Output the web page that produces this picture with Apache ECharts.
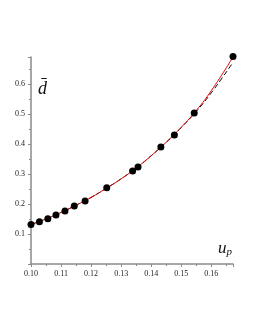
<!DOCTYPE html>
<html><head><meta charset="utf-8">
<script src="https://cdn.jsdelivr.net/npm/echarts@6/dist/echarts.min.js"></script>
<style>html,body{margin:0;padding:0;background:#fff}#c{width:255px;height:330px}</style>
</head><body><div id="c"></div>
<script>
var pointU = [0.1000,0.1028,0.1056,0.1083,0.1113,0.1144,0.1180,0.1252,0.1338,0.1356,0.1432,0.1477,0.1543,0.1672];
var pointD = [0.132,0.141,0.151,0.163,0.177,0.193,0.210,0.254,0.310,0.323,0.390,0.430,0.503,0.692];
var curveU = [0.100,0.105,0.110,0.115,0.120,0.125,0.130,0.135,0.140,0.145,0.150,0.155,0.160,0.1672];
var redD   = [0.132,0.150,0.172,0.196,0.222,0.252,0.284,0.320,0.361,0.406,0.456,0.512,0.578,0.690];
var dashD  = [0.132,0.150,0.172,0.196,0.222,0.252,0.284,0.320,0.361,0.406,0.455,0.509,0.571,0.672];
var xTicks = ['0.10','0.11','0.12','0.13','0.14','0.15','0.16'];
var yTicks = ['0.1','0.2','0.3','0.4','0.5','0.6'];

function zip(a,b){return a.map(function(v,i){return [v,b[i]];});}
var chart = echarts.init(document.getElementById('c'));
var font = '"Liberation Serif", "DejaVu Serif", serif';
chart.setOption({
  animation:false,
  grid:{left:31,right:22,top:57,bottom:66},
  xAxis:{type:'value',min:0.1,max:0.1672,interval:0.01,
    axisLine:{lineStyle:{color:'#8a8a8a',width:1.5}},
    axisTick:{show:true,length:3,inside:false,lineStyle:{color:'#8a8a8a'}},
    minorTick:{show:true,splitNumber:2,length:2,lineStyle:{color:'#8a8a8a'}},
    splitLine:{show:false},
    axisLabel:{margin:6,fontSize:8,fontFamily:font,color:'#222',showMaxLabel:false,
      formatter:function(v){var s=v.toFixed(2);return xTicks.indexOf(s)>=0?s:'';}}},
  yAxis:{type:'value',min:0,max:0.69,interval:0.1,
    axisLine:{show:true,lineStyle:{color:'#8a8a8a',width:1.5}},
    axisTick:{show:true,length:3,lineStyle:{color:'#8a8a8a'}},
    minorTick:{show:true,splitNumber:2,length:2,lineStyle:{color:'#8a8a8a'}},
    splitLine:{show:false},
    axisLabel:{margin:6,fontSize:8,fontFamily:font,color:'#222',showMinLabel:false,showMaxLabel:false,
      formatter:function(v){var s=v.toFixed(1);return yTicks.indexOf(s)>=0?s:'';}}},
  series:[
    {type:'line',data:zip(curveU,dashD),smooth:true,symbol:'none',clip:false,
      lineStyle:{color:'#000',width:1,type:[5,3]},z:2},
    {type:'line',data:zip(curveU,redD),smooth:true,symbol:'none',clip:false,
      lineStyle:{color:'#e00000',width:1},z:3},
    {type:'scatter',data:zip(pointU,pointD),symbol:'circle',symbolSize:7,clip:false,
      itemStyle:{color:'#000',opacity:1,borderWidth:0},z:4}
  ],
  graphic:[
    {type:'text',left:38,top:80,style:{text:'d\u0304',font:'italic 18px '+font,fill:'#111'}},
    {type:'text',left:218,top:240,style:{text:'{u|u}{p|p}',rich:{u:{font:'italic 17px '+font,fill:'#111'},p:{font:'italic 11px '+font,fill:'#111',padding:[8,0,0,0]}}}}
  ]
});
</script></body></html>
